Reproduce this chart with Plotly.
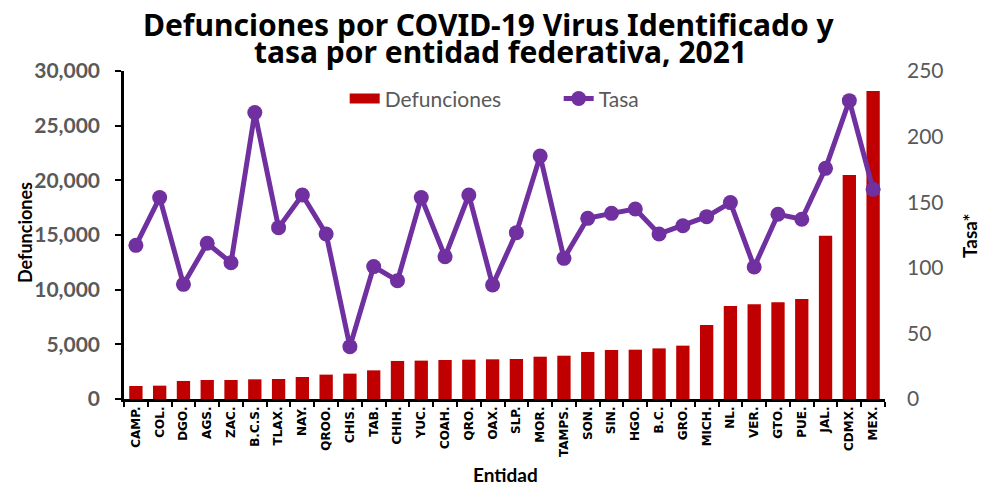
import plotly.graph_objects as go

entidades = ["CAMP.", "COL.", "DGO.", "AGS.", "ZAC.", "B.C.S.", "TLAX.", "NAY.", "QROO.", "CHIS.",
             "TAB.", "CHIH.", "YUC.", "COAH.", "QRO.", "OAX.", "SLP.", "MOR.", "TAMPS.", "SON.",
             "SIN.", "HGO.", "B.C.", "GRO.", "MICH.", "NL.", "VER.", "GTO.", "PUE.", "JAL.",
             "CDMX.", "MEX."]

defunciones = [1190, 1220, 1650, 1740, 1740, 1800, 1830, 2010, 2230, 2320,
               2620, 3480, 3510, 3570, 3600, 3630, 3660, 3870, 3960, 4300,
               4480, 4510, 4630, 4880, 6770, 8510, 8660, 8840, 9150, 14940,
               20490, 28170]

tasa = [117.1, 153.5, 87.4, 118.7, 103.9, 218.3, 130.6, 155.5, 125.8, 39.9,
        100.9, 90.2, 153.5, 108.5, 155.5, 86.9, 126.8, 185.2, 107.2, 137.7,
        141.5, 144.8, 125.8, 132.1, 139.0, 149.7, 100.6, 140.8, 137.0, 175.8,
        227.4, 159.8]

left_ticks = [0, 5000, 10000, 15000, 20000, 25000, 30000]
right_ticks = [0, 50, 100, 150, 200, 250]

title_lines = ["Defunciones por COVID-19 Virus Identificado y",
               "tasa por entidad federativa, 2021"]

BAR_COLOR = "#C00000"
LINE_COLOR = "#7030A0"
GRAY = "#595959"

fig = go.Figure()
fig.add_trace(go.Bar(x=entidades, y=defunciones, name="Defunciones", showlegend=False,
                     marker=dict(color=BAR_COLOR, line=dict(width=0)), yaxis="y"))
# legend-only entry giving a wide red swatch like the original
fig.add_trace(go.Scatter(x=[None], y=[None], name="Defunciones", mode="lines",
                         line=dict(color=BAR_COLOR, width=14), yaxis="y"))
fig.add_trace(go.Scatter(x=entidades, y=tasa, name="Tasa", mode="lines+markers",
                         line=dict(color=LINE_COLOR, width=5),
                         marker=dict(color=LINE_COLOR, size=15), yaxis="y2"))

annotations = [
    dict(text="<b>%s</b>" % title_lines[0], xref="paper", yref="paper", x=0.4796, y=1.142,
         xanchor="center", yanchor="middle", showarrow=False, borderpad=0,
         font=dict(family="Noto Sans", size=30, color="black")),
    dict(text="<b>%s</b>" % title_lines[1], xref="paper", yref="paper", x=0.4947, y=1.058,
         xanchor="center", yanchor="middle", showarrow=False, borderpad=0,
         font=dict(family="Noto Sans", size=30, color="black")),
    # axis titles
    dict(text="<b>Defunciones</b>", xref="paper", yref="paper", x=-0.130, y=0.506,
         xanchor="center", yanchor="middle", textangle=-90, showarrow=False,
         font=dict(family="Lato", size=18, color="black")),
    dict(text="<b>Tasa*</b>", xref="paper", yref="paper", x=1.1117, y=0.497,
         xanchor="center", yanchor="middle", textangle=-90, showarrow=False,
         font=dict(family="Lato", size=19, color="black")),
    dict(text="<b>Entidad</b>", xref="paper", yref="paper", x=0.5007, y=-0.2287,
         xanchor="center", yanchor="middle", showarrow=False,
         font=dict(family="Lato", size=19, color="black")),
]

fig.update_layout(
    width=990, height=487,
    margin=dict(l=124, r=105, t=71, b=88, autoexpand=False),
    paper_bgcolor="white", plot_bgcolor="white",
    bargap=0.44,
    annotations=annotations,
    font=dict(family="Lato", color=GRAY),
    showlegend=True,
    legend=dict(orientation="h", x=0.29, xanchor="left", y=0.915, yanchor="middle",
                font=dict(family="Lato", size=21, color=GRAY),
                bgcolor="rgba(0,0,0,0)", entrywidth=169, entrywidthmode="pixels",
                traceorder="normal"),
    xaxis=dict(type="category", tickangle=-90, tickson="boundaries", ticks="outside",
               ticklen=5, tickcolor="black", tickwidth=2, automargin=False,
               showline=True, linecolor="black", linewidth=2.5,
               tickfont=dict(family="DejaVu Sans", size=12, color="black", weight="bold"),
               showgrid=False, range=[-0.5, 31.5]),
    yaxis=dict(range=[0, 30000], tickvals=left_ticks, tickformat=",", ticks="outside",
               ticklen=6, tickcolor="black", tickwidth=2, automargin=False,
               ticklabelstandoff=11,
               showline=True, linecolor="black", linewidth=2.5, showgrid=False, zeroline=False,
               tickfont=dict(family="Lato", size=21, color=GRAY, weight="bold")),
    yaxis2=dict(range=[0, 250], tickvals=right_ticks, overlaying="y", side="right",
                showline=False, showgrid=False, zeroline=False, ticks="", automargin=False,
                ticklabelstandoff=21,
                tickfont=dict(family="Lato", size=21, color=GRAY)),
)

# remove the browser's default page margin so the figure fills the 990x487 window exactly
fig.write_html("out.html", config={"displayModeBar": False},
               post_script="document.body.style.margin='0';document.body.style.overflow='hidden';")
